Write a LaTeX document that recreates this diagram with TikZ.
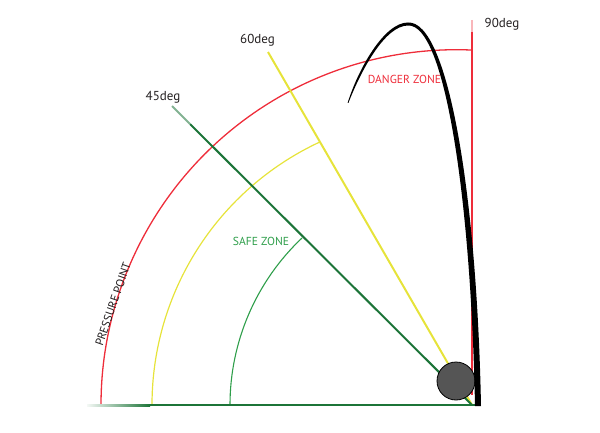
\documentclass[tikz,border=0pt]{standalone}
\usepackage{fontspec}
\setmainfont{PT Sans}
\definecolor{zred}{HTML}{EE2D3A}
\definecolor{zyel}{HTML}{E6E33A}
\definecolor{zdkg}{HTML}{1C7438}
\definecolor{zgrn}{HTML}{2E9E4A}
\definecolor{ztxt}{HTML}{231F20}
\definecolor{zball}{HTML}{555555}
\tikzset{
  lbl/.style={font=\fontsize{13}{15}\selectfont, text=ztxt, inner sep=0pt},
  zone/.style={font=\fontsize{11.6}{13}\selectfont, inner sep=0pt},
}
\begin{document}
\begin{tikzpicture}[x=1pt,y=-1pt]
\useasboundingbox (0,0) rectangle (600,433);
\coordinate (O) at (472,405);
\coordinate (T45) at (172,106);
\coordinate (T60) at (268,52);
\coordinate (T90) at (472,20);
% arcs
\draw[zred, line width=1.3pt] (101,405) arc[start angle=180, end angle=272.5, radius=355.3];
\draw[zyel, line width=1.2pt] (152,405) arc[start angle=180, end angle=245.1, radius=290];
\draw[zgrn, line width=1.1pt] (230,405) arc[start angle=180, end angle=226.6, radius=229.7];
% red vertical
\draw[zred!35, line width=1.4pt] (T90) -- (472,32);
\draw[zred, line width=1.4pt] (472,32) -- (472,395);
% angle lines
\draw[zyel, line width=2pt] (O) -- (T60);
\draw[zdkg, line width=2pt] (O) -- (190,124);
\draw[zdkg!55, line width=2pt] (190,124) -- (T45);
% baseline
\shade[left color=zdkg!5, right color=zdkg] (87,404) rectangle (150,406.2);
\fill[zdkg] (150,404) rectangle (476,406.2);
% ball
\node[circle, draw=black, line width=0.8pt, fill=zball, minimum size=38pt, inner sep=0pt] (ball) at (456,381) {};
% black curve
\fill[black] (475,406) -- (481,406) .. controls (477,200) and (449,20.5) .. (408,22.5)
  .. controls (384,22.5) and (358,69.5) .. (347.6,103) -- (348.4,103)
  .. controls (361,70.5) and (385,25.5) .. (408,25.5)
  .. controls (445,23.5) and (471,200) .. (475,406) -- cycle;
% labels
\node[lbl] (l45) at (163,97) {45deg};
\node[lbl] (l60) at (257.5,40) {60deg};
\node[lbl] (l90) at (502,24.5) {90deg};
\node[zone, text=zred] (danger) at (404.5,79) {DANGER ZONE};
\node[zone, text=zgrn] (safe) at (261,241.5) {SAFE ZONE};
\node[lbl, font=\fontsize{11.6}{13}\selectfont, rotate=71] (press) at (113,304) {PRESSURE POINT};
\end{tikzpicture}
\end{document}
